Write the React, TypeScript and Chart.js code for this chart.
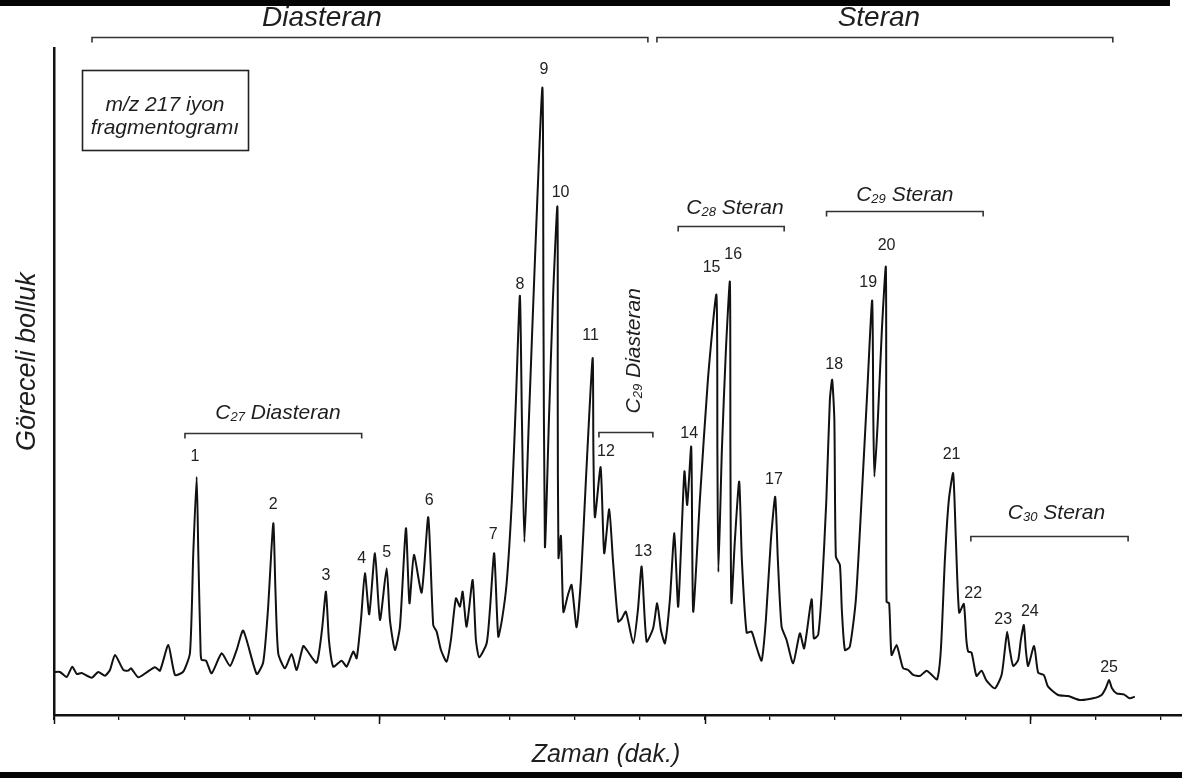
import React, { useEffect, useRef } from "react";
import { Chart, registerables } from "chart.js";

Chart.register(...registerables);

const FONT = '"Liberation Sans", Arial, Helvetica, sans-serif';

// Retention time (min) and relative abundance of the m/z 217 trace
const retentionTime = [
  0, 0.092, 0.195, 0.281, 0.349, 0.425, 0.579, 0.68, 0.783, 0.86,
  0.937, 1.065, 1.141, 1.183, 1.295, 1.424, 1.551, 1.628, 1.756, 1.859,
  1.986, 2.089, 2.14, 2.192, 2.217, 2.253, 2.269, 2.335, 2.422, 2.576,
  2.704, 2.806, 2.908, 3.114, 3.215, 3.287, 3.369, 3.402, 3.445, 3.548,
  3.651, 3.728, 3.829, 3.882, 4.035, 4.117, 4.178, 4.224, 4.29, 4.419,
  4.496, 4.598, 4.65, 4.716, 4.777, 4.843, 4.931, 5.008, 5.111, 5.161,
  5.238, 5.315, 5.407, 5.461, 5.53, 5.648, 5.75, 5.826, 5.879, 5.945,
  6.032, 6.098, 6.175, 6.237, 6.278, 6.339, 6.432, 6.482, 6.533, 6.647,
  6.697, 6.763, 6.825, 6.882, 6.954, 7.035, 7.097, 7.158, 7.189, 7.227,
  7.296, 7.389, 7.504, 7.519, 7.542, 7.604, 7.665, 7.734, 7.739, 7.75,
  7.788, 7.826, 7.896, 7.952, 8.029, 8.095, 8.172, 8.275, 8.287, 8.31,
  8.398, 8.453, 8.53, 8.587, 8.668, 8.72, 8.786, 8.899, 8.971, 9.028,
  9.104, 9.206, 9.267, 9.324, 9.386, 9.462, 9.531, 9.59, 9.685, 9.728,
  9.79, 9.82, 9.923, 10.046, 10.177, 10.192, 10.207, 10.261, 10.323, 10.384,
  10.392, 10.407, 10.461, 10.527, 10.568, 10.641, 10.717, 10.783, 10.871, 10.937,
  11.014, 11.08, 11.121, 11.178, 11.255, 11.356, 11.459, 11.525, 11.639, 11.674,
  11.74, 11.797, 11.866, 11.92, 11.955, 11.989, 12.012, 12.074, 12.104, 12.151,
  12.227, 12.319, 12.407, 12.488, 12.57, 12.588, 12.604, 12.657, 12.719, 12.78,
  12.785, 12.791, 12.831, 12.868, 12.945, 12.995, 13.046, 13.123, 13.2, 13.303,
  13.406, 13.487, 13.568, 13.625, 13.687, 13.748, 13.814, 13.856, 13.906, 13.978,
  14.017, 14.045, 14.097, 14.173, 14.25, 14.327, 14.455, 14.558, 14.608, 14.644,
  14.685, 14.736, 14.813, 14.854, 14.9, 14.931, 14.966, 15.058, 15.12, 15.207,
  15.273, 15.427, 15.581, 15.76, 15.965, 16.094, 16.16, 16.21, 16.252, 16.324,
  16.436, 16.528, 16.605,
];

const abundance = [
  6.45, 6.45, 5.7, 7.25, 6.15, 6.3, 5.6, 6.45, 5.9, 6.75,
  9.0, 6.75, 6.65, 7.0, 5.65, 6.4, 7.15, 6.65, 10.5, 6.0,
  6.5, 9.3, 24.3, 35.7, 24.3, 9.3, 8.25, 8.15, 6.25, 9.25,
  7.35, 9.75, 12.65, 6.15, 7.95, 15.75, 28.75, 18.75, 9.25, 7.0,
  9.15, 6.75, 10.35, 9.75, 7.85, 12.75, 18.5, 11.25, 7.25, 8.15,
  7.25, 9.5, 8.5, 14.25, 21.25, 15.1, 24.25, 14.25, 22.0, 14.25,
  9.75, 13.25, 28.0, 16.75, 24.0, 18.35, 29.65, 13.5, 12.5, 9.75,
  8.0, 11.25, 17.5, 16.25, 18.5, 13.25, 20.25, 11.25, 8.65, 10.75,
  15.75, 24.25, 11.75, 14.25, 19.75, 32.25, 47.25, 62.85, 44.25, 25.95,
  44.25, 68.25, 94.05, 62.25, 25.2, 44.25, 62.25, 76.2, 47.25, 23.55,
  26.85, 15.45, 18.0, 19.5, 13.15, 20.25, 35.25, 53.5, 39.75, 29.65,
  37.15, 24.25, 30.85, 23.25, 14.0, 14.4, 15.5, 10.75, 15.75, 22.25,
  11.0, 13.05, 16.75, 12.75, 10.75, 17.25, 27.25, 16.25, 36.5, 31.5,
  40.2, 15.5, 32.25, 50.25, 63.0, 39.75, 21.45, 39.75, 54.75, 64.95,
  39.75, 16.8, 26.25, 35.0, 23.25, 12.35, 12.5, 10.5, 8.15, 14.25,
  26.25, 32.7, 23.25, 13.25, 11.25, 7.75, 12.25, 10.0, 17.35, 11.5,
  12.0, 18.75, 32.25, 47.25, 50.25, 44.25, 23.75, 22.5, 15.75, 9.75,
  10.25, 17.25, 32.25, 47.25, 62.15, 44.25, 35.75, 44.25, 57.75, 67.15,
  39.75, 17.0, 16.75, 9.0, 10.5, 8.75, 7.0, 6.75, 6.0, 5.85,
  6.65, 6.0, 5.35, 9.75, 23.25, 32.25, 36.25, 26.25, 15.35, 16.65,
  11.25, 9.5, 9.35, 5.85, 6.65, 5.15, 4.0, 6.0, 9.75, 12.5,
  9.75, 7.35, 8.25, 11.25, 13.5, 9.75, 7.35, 10.35, 6.35, 6.0,
  4.25, 3.0, 2.85, 2.25, 2.5, 3.0, 4.05, 5.25, 4.05, 3.25,
  3.1, 2.5, 2.75,
];

// Peak numbers and the place of their labels (time, abundance)
const peakNumbers = [
  "1", "2", "3", "4", "5", "6", "7", "8", "9", "10", "11", "12", "13",
  "14", "15", "16", "17", "18", "19", "20", "21", "22", "23", "24", "25",
];
const peakLabelTime = [
  2.166, 3.369, 4.178, 4.727, 5.111, 5.765, 6.748, 7.158, 7.527, 7.783,
  8.244, 8.479, 9.052, 9.759, 10.103, 10.435, 11.06, 11.986, 12.508, 12.791,
  13.79, 14.121, 14.582, 14.992, 16.21,
];
const peakLabelAbundance = [
  38.75, 31.5, 20.85, 23.5, 24.35, 32.15, 27.0, 64.6, 96.75, 78.35,
  56.85, 39.5, 24.5, 42.15, 67.05, 69.0, 35.25, 52.5, 64.8, 70.35,
  39.0, 18.25, 14.25, 15.5, 7.15,
];

// Compound classes (top brackets)
const classNames = ["Diasteran", "Steran"];
const classStart = [0.584, 9.263];
const classEnd = [9.124, 16.267];
const classBracketLevel = [101.7, 101.7];
const classTextTime = [4.117, 12.673];
const classTextLevel = [104.4, 104.4];

// Carbon-number groups
const groupCarbon = ["27", "29", "28", "29", "30"];
const groupName = ["Diasteran", "Diasteran", "Steran", "Steran", "Steran"];
const groupStart = [2.012, 8.372, 9.59, 11.869, 14.086];
const groupEnd = [4.727, 9.201, 11.218, 14.275, 16.502];
const groupBracketLevel = [42.3, 42.5, 73.25, 75.5, 26.85];
const groupTextTime = [3.441, 8.894, 10.461, 13.072, 15.402];
const groupTextLevel = [45.45, 54.6, 76.25, 78.25, 30.5];
const groupTextVertical = [false, true, false, false, false];

// Legend box
const boxLines = ["m/z 217 iyon", "fragmentogramı"];
const boxTime = [0.43, 2.98];
const boxLevel = [96.75, 84.75];
const boxLineLevel = [91.5, 88.05];
const boxTextTime = 1.705;

const majorTicks = [0, 5, 10, 15];
const xTitle = "Zaman (dak.)";
const yTitle = "Göreceli bolluk";

const annotationPlugin = {
  id: "chromAnnotations",
  afterDraw(chart: any) {
    const { ctx, chartArea } = chart;
    const xs = chart.scales.x;
    const ys = chart.scales.y;
    const X = (t: number) => xs.getPixelForValue(t);
    const Y = (v: number) => ys.getPixelForValue(v);
    ctx.save();

    // dark frame strips of the scanned figure
    ctx.fillStyle = "#050505";
    ctx.fillRect(0, 0, 1170, 6);
    ctx.fillRect(0, 772, 1182, 6);

    // major ticks
    ctx.strokeStyle = "#111";
    ctx.lineWidth = 1.5;
    majorTicks.forEach((t) => {
      const px = Math.round(X(t)) + 0.5;
      ctx.beginPath();
      ctx.moveTo(px, chartArea.bottom);
      ctx.lineTo(px, chartArea.bottom + 9);
      ctx.stroke();
    });

    const bracket = (t1: number, t2: number, v: number) => {
      const x1 = X(t1);
      const x2 = X(t2);
      const y = Math.round(Y(v)) + 0.5;
      ctx.beginPath();
      ctx.moveTo(x1, y + 5);
      ctx.lineTo(x1, y);
      ctx.lineTo(x2, y);
      ctx.lineTo(x2, y + 5);
      ctx.stroke();
    };

    ctx.strokeStyle = "#333";
    ctx.lineWidth = 1.6;
    ctx.fillStyle = "#1e1e1e";

    // class brackets and titles
    classNames.forEach((name, i) => {
      bracket(classStart[i], classEnd[i], classBracketLevel[i]);
      ctx.font = `italic 28px ${FONT}`;
      ctx.textAlign = "center";
      ctx.textBaseline = "middle";
      ctx.fillText(name, X(classTextTime[i]), Y(classTextLevel[i]));
    });

    // group brackets and labels with subscripts
    groupName.forEach((name, i) => {
      bracket(groupStart[i], groupEnd[i], groupBracketLevel[i]);
      const big = `italic 21px ${FONT}`;
      const small = `italic 13px ${FONT}`;
      ctx.font = big;
      const wC = ctx.measureText("C").width;
      const wRest = ctx.measureText(" " + name).width;
      ctx.font = small;
      const wSub = ctx.measureText(groupCarbon[i]).width;
      const total = wC + wSub + wRest;
      ctx.save();
      ctx.translate(X(groupTextTime[i]), Y(groupTextLevel[i]));
      if (groupTextVertical[i]) ctx.rotate(-Math.PI / 2);
      ctx.textAlign = "left";
      ctx.textBaseline = "alphabetic";
      let cx = -total / 2;
      const base = 7.5;
      ctx.font = big;
      ctx.fillText("C", cx, base);
      cx += wC;
      ctx.font = small;
      ctx.fillText(groupCarbon[i], cx, base + 2);
      cx += wSub;
      ctx.font = big;
      ctx.fillText(" " + name, cx, base);
      ctx.restore();
    });

    // peak numbers
    ctx.font = `16px ${FONT}`;
    ctx.textAlign = "center";
    ctx.textBaseline = "middle";
    ctx.fillStyle = "#222";
    peakNumbers.forEach((n, i) => {
      ctx.fillText(n, X(peakLabelTime[i]), Y(peakLabelAbundance[i]));
    });

    // legend box
    ctx.strokeStyle = "#222";
    ctx.lineWidth = 1.6;
    const bx1 = Math.round(X(boxTime[0])) + 0.5;
    const bx2 = Math.round(X(boxTime[1])) + 0.5;
    const by1 = Math.round(Y(boxLevel[0])) + 0.5;
    const by2 = Math.round(Y(boxLevel[1])) + 0.5;
    ctx.strokeRect(bx1, by1, bx2 - bx1, by2 - by1);
    ctx.font = `italic 21px ${FONT}`;
    ctx.fillStyle = "#1e1e1e";
    boxLines.forEach((line, i) => {
      ctx.fillText(line, X(boxTextTime), Y(boxLineLevel[i]));
    });

    // axis titles
    ctx.font = `italic 25px ${FONT}`;
    ctx.fillText(xTitle, X(8.48), chartArea.bottom + 40);
    ctx.save();
    ctx.translate(chartArea.left - 27, Y(52.95));
    ctx.rotate(-Math.PI / 2);
    ctx.font = `italic 27px ${FONT}`;
    ctx.fillText(yTitle, 0, 0);
    ctx.restore();

    ctx.restore();
  },
};

export default function App() {
  const canvasRef = useRef<HTMLCanvasElement>(null);

  useEffect(() => {
    document.body.style.margin = "0";
    const canvas = canvasRef.current;
    if (!canvas) return;
    const points = retentionTime.map((t, i) => ({ x: t, y: abundance[i] }));
    const chart = new Chart(canvas, {
      type: "line",
      data: {
        datasets: [
          {
            data: points,
            borderColor: "#111",
            borderWidth: 2,
            pointRadius: 0,
            tension: 0.2,
            fill: false,
          },
        ],
      },
      options: {
        responsive: false,
        devicePixelRatio: 1,
        animation: false,
        events: [],
        layout: { padding: { left: 54, top: 48, right: 0, bottom: 58 } },
        plugins: {
          legend: { display: false },
          tooltip: { enabled: false },
          title: { display: false },
        },
        scales: {
          x: {
            type: "linear",
            min: 0,
            max: 17.33,
            position: "bottom",
            grid: {
              display: true,
              drawOnChartArea: false,
              drawTicks: true,
              tickLength: 5,
              color: "#111",
              lineWidth: 1.3,
            },
            border: { display: true, color: "#111", width: 2.5 },
            ticks: { display: false, stepSize: 1, includeBounds: false },
          },
          y: {
            type: "linear",
            min: 0,
            max: 100,
            grid: { display: false, drawTicks: false },
            border: { display: true, color: "#111", width: 2.5 },
            ticks: { display: false },
          },
        },
      },
      plugins: [annotationPlugin],
    });
    return () => chart.destroy();
  }, []);

  return (
    <div
      style={{
        position: "fixed",
        left: 0,
        top: 0,
        width: 1182,
        height: 778,
        background: "#fff",
      }}
    >
      <canvas ref={canvasRef} width={1182} height={778} style={{ display: "block" }} />
    </div>
  );
}
